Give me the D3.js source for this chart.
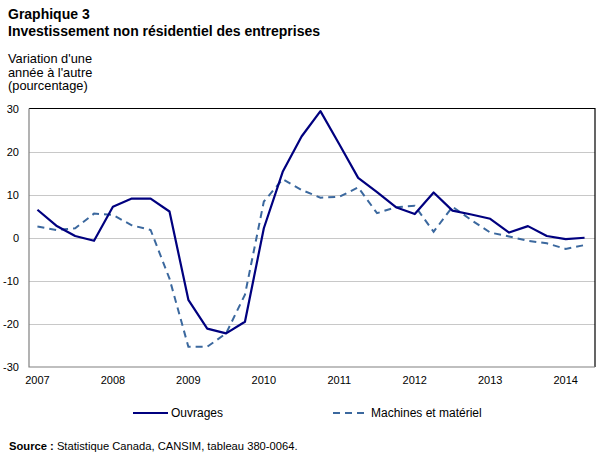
<!DOCTYPE html>
<html>
<head>
<meta charset="utf-8">
<script src="https://cdn.jsdelivr.net/npm/d3@7"></script>
<style>
  body { margin: 0; background: #fff; }
  text { font-family: Arial, "Liberation Sans", sans-serif; }
</style>
</head>
<body>
<svg id="chart" width="607" height="456"></svg>
<script>
// ---------------- data (quarterly, 2007Q1 - 2014Q2) ----------------
const years = ["2007","2008","2009","2010","2011","2012","2013","2014"];
const quarters = [];
years.forEach(y => ["T1","T2","T3","T4"].forEach(q => quarters.push(y + q)));
quarters.splice(30); // last point is 2014 T2

const ouvrages = [6.5, 2.8, 0.4, -0.7, 7.2, 9.1, 9.1, 6.1,
                  -14.4, -21.1, -22.2, -19.5, 2.2, 15.3, 23.5, 29.4,
                  21.7, 13.9, 10.6, 7.1, 5.5, 10.5, 6.3, 5.4,
                  4.4, 1.2, 2.7, 0.4, -0.3, 0.0];
const machines = [2.6, 1.8, 2.2, 5.6, 5.3, 2.9, 1.8, -9.5,
                  -25.3, -25.3, -22.2, -13.2, 8.4, 13.6, 11.1, 9.3,
                  9.5, 11.7, 5.7, 7.1, 7.4, 1.4, 7.2, 4.1,
                  1.2, 0.3, -0.7, -1.3, -2.6, -1.7];
const yTicks = [-30, -20, -10, 0, 10, 20, 30];

// ---------------- layout ----------------
const svg = d3.select("#chart");
const plotL = 29, plotR = 595, plotT = 108.5, plotB = 367;

var x = d3.scaleBand()
    .domain(quarters)
    .range([plotL, plotR]);
var y = d3.scaleLinear()
    .domain([-30, 30])
    .range([plotB, plotT]);
const cx = d => x(d) + x.bandwidth() / 2 - 1;

// titles
svg.append("text").attr("x", 8).attr("y", 19)
    .style("font-size", "14px").style("font-weight", "bold")
    .text("Graphique 3");
svg.append("text").attr("x", 8).attr("y", 36)
    .style("font-size", "14px").style("font-weight", "bold")
    .text("Investissement non résidentiel des entreprises");

["Variation d'une", "année à l'autre", "(pourcentage)"].forEach((t, i) => {
  svg.append("text").attr("x", 8).attr("y", 63 + i * 13.5)
      .style("font-size", "12.8px").text(t);
});

// grid lines
svg.append("g").selectAll("line")
    .data(yTicks.filter(d => d > -30 && d < 30))
  .enter().append("line")
    .attr("x1", plotL).attr("x2", plotR)
    .attr("y1", d => Math.round(y(d)) + 0.5).attr("y2", d => Math.round(y(d)) + 0.5)
    .attr("stroke", "#c8c8c8").attr("stroke-width", 1);

// frame
svg.append("path")
    .attr("d", "M" + plotL + "," + plotT + "H" + plotR + "V" + plotB)
    .attr("fill", "none").attr("stroke", "#000").attr("stroke-width", 1.2);
svg.append("path")
    .attr("d", "M" + plotL + "," + plotT + "V" + plotB + "H" + plotR)
    .attr("fill", "none").attr("stroke", "#808080").attr("stroke-width", 1.2);

// y tick labels
svg.append("g").selectAll("text")
    .data(yTicks)
  .enter().append("text")
    .attr("x", 19).attr("y", d => y(d) + 4)
    .attr("text-anchor", "end")
    .style("font-size", "11px")
    .text(d => d);

// x tick labels (at each first quarter)
svg.append("g").selectAll("text")
    .data(years)
  .enter().append("text")
    .attr("x", d => cx(d + "T1"))
    .attr("y", 384)
    .attr("text-anchor", "middle")
    .style("font-size", "11px")
    .text(d => d);

// lines
var line = d3.line()
    .x((d, i) => cx(quarters[i]))
    .y(d => y(d));

svg.append("path")
    .datum(machines)
    .attr("d", line)
    .attr("fill", "none")
    .attr("stroke", "#3b689e")
    .attr("stroke-width", 2)
    .attr("stroke-dasharray", "7,5");

svg.append("path")
    .datum(ouvrages)
    .attr("d", line)
    .attr("fill", "none")
    .attr("stroke", "#00007f")
    .attr("stroke-width", 2.2)
    .attr("stroke-linejoin", "round");

// legend
svg.append("line").attr("x1", 133).attr("x2", 168).attr("y1", 413).attr("y2", 413)
    .attr("stroke", "#00007f").attr("stroke-width", 2.2);
svg.append("text").attr("x", 171).attr("y", 417)
    .style("font-size", "12px").text("Ouvrages");
svg.append("line").attr("x1", 333).attr("x2", 369).attr("y1", 413).attr("y2", 413)
    .attr("stroke", "#3b689e").attr("stroke-width", 2).attr("stroke-dasharray", "7,5");
svg.append("text").attr("x", 371).attr("y", 417)
    .style("font-size", "12px").text("Machines et matériel");

// source
var src = svg.append("text").attr("x", 9).attr("y", 450).style("font-size", "11.2px");
src.append("tspan").style("font-weight", "bold").text("Source : ");
src.append("tspan").text("Statistique Canada, CANSIM, tableau 380-0064.");
</script>
</body>
</html>
